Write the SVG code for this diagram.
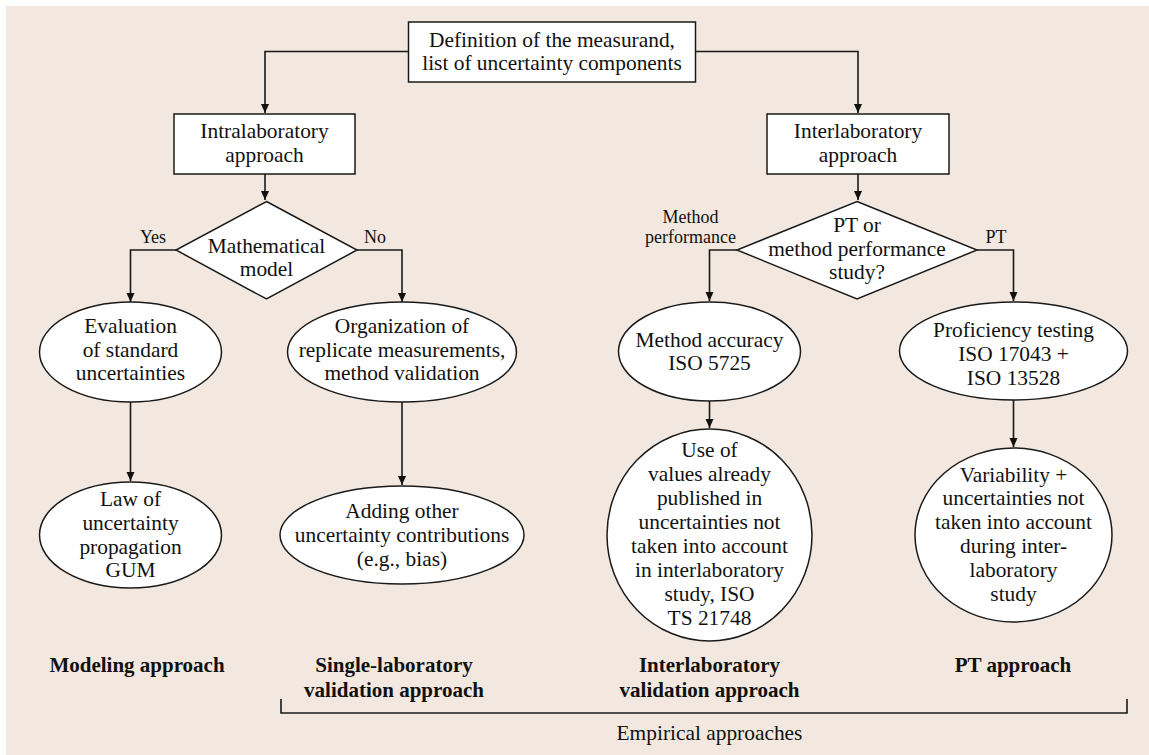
<svg xmlns="http://www.w3.org/2000/svg" width="1149" height="755" viewBox="0 0 1149 755">
<style>
.n{fill:#fff;stroke:#1a1a1a;stroke-width:1.5}
.t{font-family:"Liberation Serif","Times New Roman",serif;font-size:21.4px;fill:#111;text-anchor:middle}
.s{font-family:"Liberation Serif","Times New Roman",serif;font-size:18px;fill:#111;text-anchor:middle}
.b{font-family:"Liberation Serif","Times New Roman",serif;font-size:21px;font-weight:bold;fill:#111;text-anchor:middle}
.c{fill:none;stroke:#1a1a1a;stroke-width:1.6}
</style>
<defs>
<marker id="ah" markerUnits="userSpaceOnUse" markerWidth="10" markerHeight="10" refX="9" refY="4" orient="auto">
<path d="M0,0 L9,4 L0,8 z" fill="#111"/>
</marker>
</defs>
<rect x="6" y="6" width="1143" height="749" fill="#f2e8df"/>

<g id="connectors">
<path class="c" d="M408,51.5 H265 V113" marker-end="url(#ah)"/>
<path class="c" d="M696,51.5 H858 V113" marker-end="url(#ah)"/>
<path class="c" d="M265,174 V200" marker-end="url(#ah)"/>
<path class="c" d="M858,174 V200" marker-end="url(#ah)"/>
<path class="c" d="M176,250 H130.5 V302" marker-end="url(#ah)"/>
<path class="c" d="M357,250 H402 V302" marker-end="url(#ah)"/>
<path class="c" d="M737,250 H709.5 V301" marker-end="url(#ah)"/>
<path class="c" d="M977,250 H1013.5 V301" marker-end="url(#ah)"/>
<path class="c" d="M130.5,402 V481" marker-end="url(#ah)"/>
<path class="c" d="M402,402 V485" marker-end="url(#ah)"/>
<path class="c" d="M709.5,401 V428" marker-end="url(#ah)"/>
<path class="c" d="M1013.5,400 V447" marker-end="url(#ah)"/>
<path class="c" d="M281,699 V713 H1127 V699" stroke-width="2"/>
</g>

<g id="top">
<rect class="n" x="408.5" y="22" width="287" height="60"/>
<text class="t" x="552" y="47">Definition of the measurand,</text>
<text class="t" x="552" y="70">list of uncertainty components</text>
</g>

<g id="intra">
<rect class="n" x="174" y="114" width="181" height="60"/>
<text class="t" x="264.5" y="138">Intralaboratory</text>
<text class="t" x="264.5" y="162">approach</text>
</g>

<g id="inter">
<rect class="n" x="767" y="114" width="182" height="60"/>
<text class="t" x="858" y="138">Interlaboratory</text>
<text class="t" x="858" y="162">approach</text>
</g>

<g id="math">
<polygon class="n" points="266.5,201.5 357,250 266.5,299 176,250"/>
<text class="t" x="266.5" y="252.5">Mathematical</text>
<text class="t" x="266.5" y="276">model</text>
<text class="s" x="153" y="243">Yes</text>
<text class="s" x="375" y="243">No</text>
</g>

<g id="pt">
<polygon class="n" points="857,201.5 977,250 857,299 737,250"/>
<text class="t" x="857" y="231.5">PT or</text>
<text class="t" x="857" y="256">method performance</text>
<text class="t" x="857" y="279">study?</text>
<text class="s" x="690.5" y="223">Method</text>
<text class="s" x="690.5" y="243">performance</text>
<text class="s" x="996" y="243">PT</text>
</g>

<g id="eval">
<ellipse class="n" cx="130.5" cy="352" rx="91" ry="50"/>
<text class="t" x="130.5" y="333">Evaluation</text>
<text class="t" x="130.5" y="357">of standard</text>
<text class="t" x="130.5" y="380">uncertainties</text>
</g>

<g id="org">
<ellipse class="n" cx="402" cy="352" rx="114.5" ry="50"/>
<text class="t" x="402" y="333">Organization of</text>
<text class="t" x="402" y="357">replicate measurements,</text>
<text class="t" x="402" y="380">method validation</text>
</g>

<g id="acc">
<ellipse class="n" cx="709.5" cy="351.5" rx="91" ry="49.5"/>
<text class="t" x="709.5" y="347">Method accuracy</text>
<text class="t" x="709.5" y="370">ISO 5725</text>
</g>

<g id="prof">
<ellipse class="n" cx="1013.5" cy="351" rx="114" ry="49"/>
<text class="t" x="1013.5" y="337">Proficiency testing</text>
<text class="t" x="1013.5" y="361">ISO 17043 +</text>
<text class="t" x="1013.5" y="385">ISO 13528</text>
</g>

<g id="law">
<ellipse class="n" cx="130.5" cy="535" rx="91" ry="53"/>
<text class="t" x="130.5" y="506">Law of</text>
<text class="t" x="130.5" y="530">uncertainty</text>
<text class="t" x="130.5" y="554">propagation</text>
<text class="t" x="130.5" y="577">GUM</text>
</g>

<g id="adding">
<ellipse class="n" cx="402" cy="535" rx="122" ry="49"/>
<text class="t" x="402" y="518">Adding other</text>
<text class="t" x="402" y="542">uncertainty contributions</text>
<text class="t" x="402" y="566">(e.g., bias)</text>
</g>

<g id="use">
<ellipse class="n" cx="709.5" cy="535" rx="102.5" ry="106"/>
<text class="t" x="709.5" y="457">Use of</text>
<text class="t" x="709.5" y="481">values already</text>
<text class="t" x="709.5" y="505">published in</text>
<text class="t" x="709.5" y="529">uncertainties not</text>
<text class="t" x="709.5" y="553">taken into account</text>
<text class="t" x="709.5" y="577">in interlaboratory</text>
<text class="t" x="709.5" y="601">study, ISO</text>
<text class="t" x="709.5" y="625">TS 21748</text>
</g>

<g id="var">
<ellipse class="n" cx="1013.5" cy="535" rx="98.5" ry="87"/>
<text class="t" x="1013.5" y="482">Variability +</text>
<text class="t" x="1013.5" y="505">uncertainties not</text>
<text class="t" x="1013.5" y="529">taken into account</text>
<text class="t" x="1013.5" y="553">during inter-</text>
<text class="t" x="1013.5" y="577">laboratory</text>
<text class="t" x="1013.5" y="601">study</text>
</g>

<g id="labels">
<text class="b" x="137" y="672">Modeling approach</text>
<text class="b" x="394" y="672">Single-laboratory</text>
<text class="b" x="394" y="697">validation approach</text>
<text class="b" x="709.5" y="672">Interlaboratory</text>
<text class="b" x="709.5" y="697">validation approach</text>
<text class="b" x="1013" y="672">PT approach</text>
<text class="t" x="709.5" y="740">Empirical approaches</text>
</g>
</svg>
